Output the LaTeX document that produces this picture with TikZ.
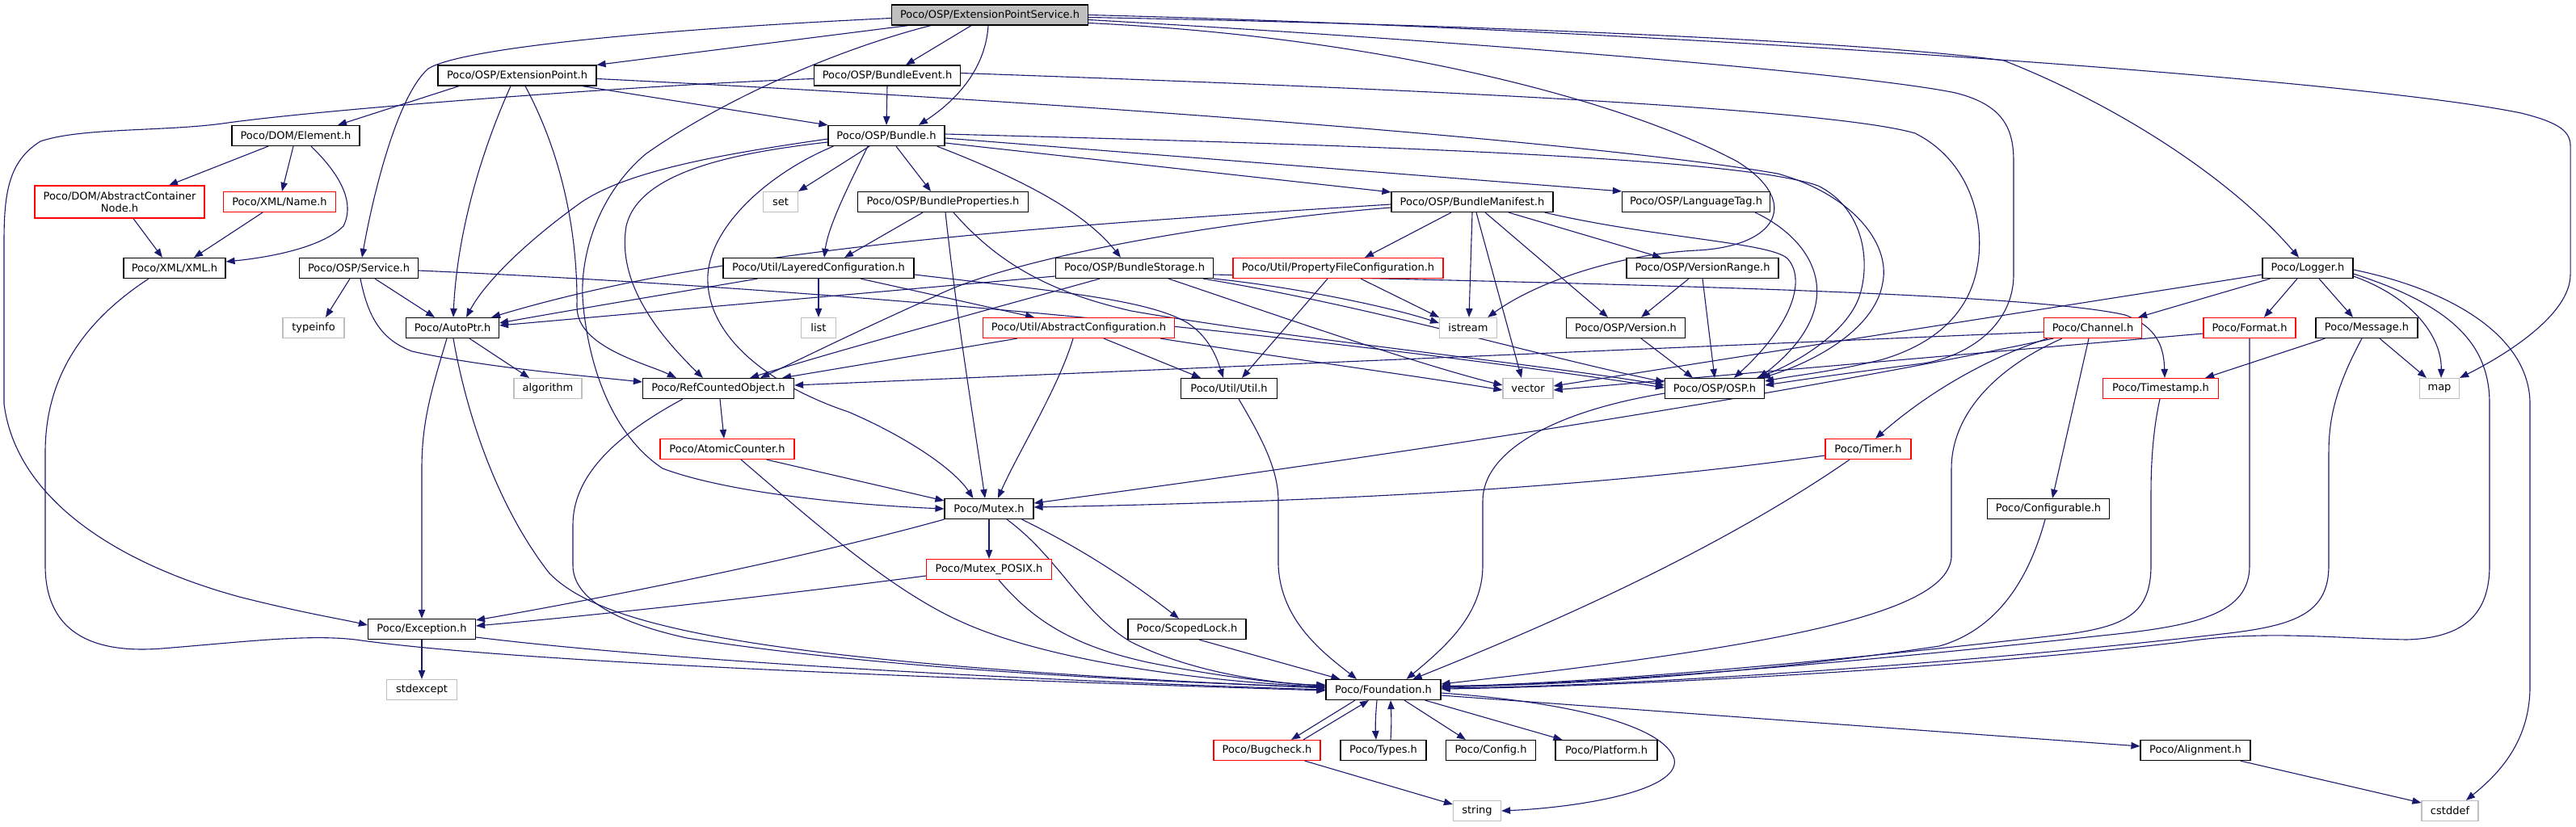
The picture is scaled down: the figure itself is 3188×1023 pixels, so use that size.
\documentclass[tikz,border=0pt]{standalone}
\usepackage{fontspec}
\setmainfont{DejaVu Sans}
\usetikzlibrary{arrows.meta,calc}
\definecolor{edgec}{RGB}{25,25,112}
\definecolor{lgray}{RGB}{191,191,191}
\definecolor{nred}{RGB}{255,0,0}
\pgfdeclarelayer{bg}
\pgfsetlayers{bg,main}
\begin{document}
\begin{tikzpicture}[x=0.5pt,y=-0.5pt,
 nd/.style={draw=black, line width=0.6pt, inner sep=0pt, minimum height=12.5pt, font=\fontsize{6.5}{7.5}\selectfont, fill=white},
 rd/.style={nd, draw=nred},
 gd/.style={nd, draw=lgray},
 ed/.style={draw=edgec, line width=0.55pt, -{Triangle[length=5.5pt,width=4.2pt]}}]
\useasboundingbox (0,0) rectangle (3188,1023);
% nodes
\node[nd,fill=lgray,minimum width=121.5pt] (eps) at (1225,18.5) {Poco/OSP/ExtensionPointService.h};
\node[nd,minimum width=98pt] (extpt) at (640,93.5) {Poco/OSP/ExtensionPoint.h};
\node[nd,minimum width=90.5pt] (bevent) at (1098,93.5) {Poco/OSP/BundleEvent.h};
\node[nd,minimum width=72pt] (bundle) at (1097,168) {Poco/OSP/Bundle.h};
\node[nd,minimum width=79pt] (element) at (366,168) {Poco/DOM/Element.h};
\node[rd,minimum width=105pt,minimum height=20pt,align=center] (acn) at (148,250) {Poco/DOM/AbstractContainer\\Node.h};
\node[rd,minimum width=69.5pt] (xmlname) at (346,250) {Poco/XML/Name.h};
\node[gd,minimum width=21.5pt] (set) at (966,250) {set};
\node[nd,minimum width=105.5pt] (bprops) at (1167,250) {Poco/OSP/BundleProperties.h};
\node[nd,minimum width=100pt] (bmanifest) at (1822,250) {Poco/OSP/BundleManifest.h};
\node[nd,minimum width=91.5pt] (langtag) at (2099,250) {Poco/OSP/LanguageTag.h};
\node[nd,minimum width=63pt] (xmlxml) at (216,332) {Poco/XML/XML.h};
\node[nd,minimum width=73.5pt] (service) at (444,332) {Poco/OSP/Service.h};
\node[nd,minimum width=118pt] (layered) at (1013,332) {Poco/Util/LayeredConfiguration.h};
\node[nd,minimum width=97.5pt] (bstorage) at (1404,332) {Poco/OSP/BundleStorage.h};
\node[rd,minimum width=130pt] (propfile) at (1656,332) {Poco/Util/PropertyFileConfiguration.h};
\node[nd,minimum width=94pt] (verrange) at (2107,332) {Poco/OSP/VersionRange.h};
\node[nd,minimum width=56pt] (logger) at (2856,332) {Poco/Logger.h};
\node[gd,minimum width=38pt] (typeinfo) at (388,406) {typeinfo};
\node[nd,minimum width=57.5pt] (autoptr) at (560,406) {Poco/AutoPtr.h};
\node[gd,minimum width=21.5pt] (list) at (1013,406) {list};
\node[rd,minimum width=118.5pt] (abscfg) at (1335,406) {Poco/Util/AbstractConfiguration.h};
\node[gd,minimum width=35.5pt] (istream) at (1817,406) {istream};
\node[nd,minimum width=73.5pt] (version) at (2012,406) {Poco/OSP/Version.h};
\node[rd,minimum width=60.5pt] (channel) at (2590,406) {Poco/Channel.h};
\node[rd,minimum width=57pt] (format) at (2784,406) {Poco/Format.h};
\node[nd,minimum width=63pt] (message) at (2929,406) {Poco/Message.h};
\node[gd,minimum width=42pt] (algorithm) at (678,481) {algorithm};
\node[nd,minimum width=93.5pt] (refcnt) at (889,481) {Poco/RefCountedObject.h};
\node[nd,minimum width=59.5pt] (utilh) at (1521,481) {Poco/Util/Util.h};
\node[gd,minimum width=31pt] (vector) at (1891,481) {vector};
\node[nd,minimum width=61.5pt] (osph) at (2122,481) {Poco/OSP/OSP.h};
\node[rd,minimum width=71.5pt] (timestamp) at (2674,481) {Poco/Timestamp.h};
\node[gd,minimum width=24.5pt] (map) at (3019,481) {map};
\node[rd,minimum width=83pt] (atomic) at (900,556) {Poco/AtomicCounter.h};
\node[rd,minimum width=53pt] (timer) at (2312,556) {Poco/Timer.h};
\node[nd,minimum width=55pt] (mutex) at (1224,630) {Poco/Mutex.h};
\node[nd,minimum width=75.5pt] (configurable) at (2535,630) {Poco/Configurable.h};
\node[rd,minimum width=77.5pt] (mutexposix) at (1224,705) {Poco/Mutex\_POSIX.h};
\node[nd,minimum width=66.5pt] (exception) at (522,779) {Poco/Exception.h};
\node[nd,minimum width=73pt] (scopedlock) at (1469,779) {Poco/ScopedLock.h};
\node[gd,minimum width=43.5pt] (stdexcept) at (522,854) {stdexcept};
\node[nd,minimum width=71pt] (foundation) at (1712,854) {Poco/Foundation.h};
\node[rd,minimum width=66pt] (bugcheck) at (1568,929) {Poco/Bugcheck.h};
\node[nd,minimum width=53pt] (types) at (1712,929) {Poco/Types.h};
\node[nd,minimum width=55.5pt] (config) at (1845,929) {Poco/Config.h};
\node[nd,minimum width=63pt] (platform) at (1988,929) {Poco/Platform.h};
\node[nd,minimum width=68pt] (alignment) at (2717,929) {Poco/Alignment.h};
\node[gd,minimum width=29.5pt] (string) at (1828,1004) {string};
\node[gd,minimum width=35pt] (cstddef) at (3032,1004) {cstddef};
% edges
\begin{pgfonlayer}{bg}
% ExtensionPointService
\draw[ed] ($(eps.south)+(-101,0)$) -- (extpt.north east);
\draw[ed] ($(eps.south)+(-23,0)$) -- ($(bevent.north)+(23,0)$);
\draw[ed] ($(eps.south)+(-2,0)$) .. controls (1220,80) and (1190,120) .. ($(bundle.north)+(40,0)$);
\draw[ed] ($(eps.west)+(0,4)$) .. controls (800,37) and (570,60) .. (530,85) .. controls (490,120) and (460,250) .. ($(service.north)+(4,0)$);
\draw[ed] ($(eps.south)+(-73,0)$) .. controls (1040,60) and (900,120) .. (800,190) .. controls (740,240) and (715,320) .. (722,380) .. controls (730,460) and (760,540) .. (820,580) .. controls (900,610) and (1050,625) .. (mutex.west);
\draw[ed] ($(eps.east)+(0,3)$) .. controls (1800,30) and (2300,50) .. (2480,75) .. controls (2620,130) and (2760,220) .. ($(logger.north)+(-11,0)$);
\draw[ed] ($(eps.east)+(0,0)$) .. controls (2000,35) and (2900,95) .. (3120,140) .. controls (3160,150) and (3181,160) .. (3181,180) -- (3181,340) .. controls (3181,390) and (3100,440) .. (map.north east);
\draw[ed] ($(eps.east)+(0,10)$) .. controls (1700,45) and (2000,120) .. (2150,200) .. controls (2230,250) and (2200,305) .. (2100,310) .. controls (2000,315) and (1900,350) .. ($(istream.north east)+(-12,0)$);
\draw[ed] ($(eps.east)+(0,6)$) .. controls (1800,50) and (2300,90) .. (2420,115) .. controls (2480,130) and (2492,160) .. (2492,200) -- (2492,340) .. controls (2492,400) and (2440,440) .. (2380,450) .. controls (2300,460) and (2230,470) .. ($(osph.east)+(0,-4)$);
% ExtensionPoint
\draw[ed] ($(extpt.south)+(-72,0)$) -- ($(element.north)+(52,0)$);
\draw[ed] ($(extpt.south east)+(-18,0)$) -- (bundle.north west);
\draw[ed] ($(extpt.south)+(-8,0)$) .. controls (590,200) and (565,300) .. ($(autoptr.north)+(1,0)$);
\draw[ed] ($(extpt.south)+(10,0)$) .. controls (700,200) and (715,300) .. (714,380) .. controls (714,430) and (800,450) .. ($(refcnt.north west)+(42,0)$);
\draw[ed] ($(extpt.east)+(0,4)$) .. controls (1400,130) and (2000,180) .. (2200,215) .. controls (2290,240) and (2340,300) .. (2330,350) .. controls (2320,410) and (2240,450) .. ($(osph.north east)+(-4,0)$);
% BundleEvent
\draw[ed] (bevent.south) -- (bundle.north);
\draw[ed] ($(bevent.east)+(0,-3)$) .. controls (1600,105) and (2250,130) .. (2370,165) .. controls (2440,200) and (2460,280) .. (2445,340) .. controls (2430,400) and (2380,430) .. (2330,445) .. controls (2270,460) and (2220,465) .. ($(osph.east)+(0,-9)$);
\draw[ed] ($(bevent.west)+(0,4)$) .. controls (800,105) and (400,135) .. (275,153) .. controls (200,163) and (100,158) .. (50,175) .. controls (10,200) and (5,240) .. (5,300) -- (5,500) .. controls (20,620) and (150,700) .. (300,740) .. controls (380,760) and (420,766) .. ($(exception.west)+(0,-5)$);
% Bundle
\draw[ed] ($(bundle.south)+(-21,0)$) -- (set.north east);
\draw[ed] ($(bundle.south)+(12,0)$) -- ($(bprops.north)+(-15,0)$);
\draw[ed] ($(bundle.south)+(-23,0)$) .. controls (1050,230) and (1025,280) .. ($(layered.north)+(7,0)$);
\draw[ed] ($(bundle.south east)+(-10,0)$) .. controls (1260,220) and (1340,260) .. ($(bstorage.north)+(-17,0)$);
\draw[ed] ($(bundle.east)+(0,9)$) -- ($(bmanifest.north west)+(0,1)$);
\draw[ed] ($(bundle.east)+(0,3)$) -- (langtag.north west);
\draw[ed] ($(bundle.east)+(0,-2)$) .. controls (1700,180) and (2150,195) .. (2250,230) .. controls (2310,260) and (2315,330) .. (2300,370) .. controls (2280,420) and (2210,455) .. ($(osph.north east)+(-10,0)$);
\draw[ed] ($(bundle.west)+(0,4)$) .. controls (900,190) and (780,210) .. (720,250) .. controls (650,300) and (600,350) .. ($(autoptr.north)+(17,0)$);
\draw[ed] ($(bundle.west)+(0,8)$) .. controls (900,190) and (790,215) .. (775,280) .. controls (765,340) and (800,400) .. ($(refcnt.north west)+(75,0)$);
\draw[ed] ($(bundle.south west)+(7,0)$) .. controls (950,215) and (880,280) .. (876,340) .. controls (872,420) and (960,480) .. (1050,510) .. controls (1120,540) and (1180,580) .. ($(mutex.north west)+(36,0)$);
% BundleProperties
\draw[ed] ($(bprops.south)+(-25,0)$) -- ($(layered.north)+(32,0)$);
\draw[ed] ($(bprops.south)+(3,0)$) .. controls (1185,400) and (1205,520) .. ($(mutex.north)+(-5,0)$);
\draw[ed] ($(bprops.south)+(13,0)$) .. controls (1230,320) and (1290,360) .. (1400,385) .. controls (1600,420) and (1900,450) .. ($(osph.west)+(0,-4)$);
% LayeredConfiguration
\draw[ed] (layered.south) -- (list.north);
\draw[ed] ($(layered.south)+(52,0)$) -- ($(abscfg.north)+(-55,0)$);
\draw[ed] ($(layered.south west)+(43,0)$) .. controls (850,360) and (700,385) .. ($(autoptr.east)+(0,-6)$);
\draw[ed] ($(layered.east)+(0,8)$) .. controls (1300,360) and (1420,370) .. (1470,400) .. controls (1500,420) and (1508,450) .. ($(utilh.north)+(-7,0)$);
% BundleStorage
\draw[ed] ($(bstorage.west)+(0,10)$) -- ($(autoptr.east)+(0,-3)$);
\draw[ed] ($(bstorage.south)+(-43,0)$) .. controls (1200,390) and (1050,430) .. ($(refcnt.north east)+(-55,0)$);
\draw[ed] ($(bstorage.south east)+(0,0)$) .. controls (1600,355) and (1720,380) .. ($(istream.west)+(0,-6)$);
\draw[ed] ($(bstorage.south east)+(-56,0)$) .. controls (1550,380) and (1750,450) .. ($(vector.west)+(0,-4)$);
\draw[ed] ($(bstorage.south east)+(-13,0)$) .. controls (1700,380) and (1900,440) .. ($(osph.west)+(0,-8)$);
\draw[ed] ($(bstorage.east)+(0,8)$) .. controls (1900,350) and (2500,360) .. (2630,390) .. controls (2670,405) and (2678,430) .. ($(timestamp.north)+(5,0)$);
% BundleManifest
\draw[ed] ($(bmanifest.south)+(-26,0)$) -- ($(propfile.north)+(33,0)$);
\draw[ed] (bmanifest.south) -- ($(istream.north)+(1,0)$);
\draw[ed] ($(bmanifest.south)+(5,0)$) -- ($(vector.north)+(-8,0)$);
\draw[ed] ($(bmanifest.south)+(16,0)$) -- ($(version.north)+(-22,0)$);
\draw[ed] ($(bmanifest.south)+(45,0)$) -- ($(verrange.north)+(-51,0)$);
\draw[ed] ($(bmanifest.south east)+(-11,0)$) .. controls (2050,295) and (2190,300) .. (2212,320) .. controls (2235,345) and (2220,400) .. ($(osph.north)+(24,0)$);
\draw[ed] ($(bmanifest.west)+(0,3)$) .. controls (1300,280) and (900,305) .. ($(autoptr.north east)+(-10,0)$);
\draw[ed] ($(bmanifest.west)+(0,7)$) .. controls (1500,275) and (1250,320) .. (1157,367) .. controls (1060,410) and (980,450) .. ($(refcnt.north east)+(-42,0)$);
% LanguageTag, VersionRange, Version, PropertyFile
\draw[ed] ($(langtag.south east)+(-19,0)$) .. controls (2250,300) and (2290,380) .. ($(osph.north east)+(-7,0)$);
\draw[ed] ($(propfile.south)+(28,0)$) -- (istream.north west);
\draw[ed] ($(propfile.south)+(-13,0)$) -- ($(utilh.north)+(16,0)$);
\draw[ed] ($(verrange.south)+(-17,0)$) -- ($(version.north)+(19,0)$);
\draw[ed] (verrange.south) -- (osph.north);
\draw[ed] ($(version.south)+(19,0)$) -- ($(osph.north)+(-27,0)$);
% Service
\draw[ed] ($(service.south)+(-11,0)$) -- ($(typeinfo.north)+(15,0)$);
\draw[ed] ($(service.south)+(20,0)$) -- ($(autoptr.north)+(-22,0)$);
\draw[ed] ($(service.south)+(2,0)$) .. controls (455,390) and (470,420) .. (510,435) .. controls (600,455) and (720,465) .. ($(refcnt.west)+(0,-8)$);
\draw[ed] ($(service.east)+(0,3)$) .. controls (1200,365) and (1800,440) .. ($(osph.west)+(0,-1)$);
% DOM / XML
\draw[ed] ($(element.south)+(-34,0)$) -- ($(acn.north)+(61,0)$);
\draw[ed] ($(element.south)+(-3,0)$) -- ($(xmlname.north)+(3,0)$);
\draw[ed] ($(element.south)+(19,0)$) .. controls (420,215) and (440,250) .. (425,280) .. controls (400,305) and (340,318) .. ($(xmlxml.east)+(0,-8)$);
\draw[ed] ($(acn.south)+(17,0)$) -- ($(xmlxml.north)+(-15,0)$);
\draw[ed] ($(xmlname.south)+(-21,0)$) -- ($(xmlxml.north)+(24,0)$);
\draw[ed] ($(xmlxml.south)+(-32,0)$) .. controls (100,400) and (56,470) .. (56,560) -- (56,700) .. controls (56,780) and (110,810) .. (200,803) .. controls (300,795) and (380,785) .. (440,792) .. controls (600,815) and (1000,835) .. ($(foundation.west)+(0,1)$);
% AutoPtr
\draw[ed] ($(autoptr.south)+(21,0)$) -- ($(algorithm.north)+(-23,0)$);
\draw[ed] ($(autoptr.south)+(-7,0)$) .. controls (535,480) and (522,520) .. (522,580) -- (exception.north);
\draw[ed] ($(autoptr.south)+(1,0)$) .. controls (575,500) and (610,620) .. (680,710) .. controls (740,770) and (900,820) .. ($(foundation.west)+(0,-2)$);
% Exception
\draw[ed] (exception.south) -- (stdexcept.north);
\draw[ed] ($(exception.east)+(0,10)$) .. controls (800,815) and (1200,840) .. ($(foundation.west)+(0,0)$);
% RefCountedObject, AtomicCounter
\draw[ed] ($(refcnt.south)+(2,0)$) -- ($(atomic.north)+(-4,0)$);
\draw[ed] ($(refcnt.south west)+(50,0)$) .. controls (760,540) and (709,590) .. (709,650) -- (709,700) .. controls (709,740) and (760,770) .. (850,790) .. controls (1100,830) and (1450,845) .. ($(foundation.west)+(0,-3)$);
\draw[ed] ($(atomic.south east)+(-35,0)$) -- ($(mutex.west)+(0,-10)$);
\draw[ed] ($(atomic.south)+(17,0)$) .. controls (1000,640) and (1100,730) .. (1190,770) .. controls (1300,820) and (1500,845) .. ($(foundation.west)+(0,-4)$);
% AbstractConfiguration
\draw[ed] ($(abscfg.south west)+(43,0)$) -- ($(refcnt.north east)+(-15,0)$);
\draw[ed] ($(abscfg.south)+(31,0)$) -- ($(utilh.north)+(-35,0)$);
\draw[ed] ($(abscfg.south)+(-7,0)$) .. controls (1310,480) and (1260,560) .. ($(mutex.north)+(11,0)$);
\draw[ed] ($(abscfg.south east)+(-18,0)$) .. controls (1600,445) and (1750,465) .. ($(vector.west)+(0,2)$);
% Util.h
\draw[ed] ($(utilh.south)+(12,0)$) .. controls (1560,540) and (1582,580) .. (1582,620) -- (1582,700) .. controls (1585,770) and (1640,810) .. ($(foundation.north)+(-33,0)$);
% Mutex family
\draw[ed] (mutex.south) -- (mutexposix.north);
\draw[ed] ($(mutex.south east)+(-15,0)$) .. controls (1340,680) and (1400,720) .. ($(scopedlock.north)+(-10,0)$);
\draw[ed] (mutex.south west) .. controls (1000,690) and (750,740) .. ($(exception.north east)+(0,2)$);
\draw[ed] ($(mutex.south)+(22,0)$) .. controls (1310,690) and (1340,760) .. (1400,795) .. controls (1470,830) and (1560,845) .. ($(foundation.west)+(0,-5)$);
\draw[ed] ($(mutexposix.west)+(0,8)$) .. controls (900,745) and (700,765) .. ($(exception.east)+(0,-4)$);
\draw[ed] ($(mutexposix.south)+(12,0)$) .. controls (1280,770) and (1330,800) .. (1420,820) .. controls (1520,840) and (1600,848) .. ($(foundation.west)+(0,-6)$);
\draw[ed] ($(scopedlock.south)+(15,0)$) -- ($(foundation.north west)+(18,0)$);
% Timer
\draw[ed] ($(timer.west)+(0,8)$) .. controls (2000,600) and (1700,620) .. ($(mutex.east)+(0,-2)$);
\draw[ed] ($(timer.south)+(-23,0)$) .. controls (2100,700) and (1850,800) .. ($(foundation.north east)+(-35,0)$);
% OSP.h
\draw[ed] ($(osph.west)+(0,6)$) .. controls (1920,510) and (1835,560) .. (1835,620) -- (1835,700) .. controls (1835,760) and (1790,800) .. ($(foundation.north east)+(-43,0)$);
% Channel
\draw[ed] ($(channel.south)+(-5,0)$) -- ($(configurable.north)+(5,0)$);
\draw[ed] ($(channel.south west)+(5,0)$) .. controls (2440,450) and (2370,500) .. ($(timer.north)+(9,0)$);
\draw[ed] ($(channel.south west)+(12,0)$) .. controls (2300,470) and (1900,540) .. ($(mutex.east)+(0,-7)$);
\draw[ed] ($(channel.west)+(0,5)$) -- ($(refcnt.east)+(0,-4)$);
\draw[ed] ($(channel.south west)+(23,0)$) .. controls (2460,460) and (2415,520) .. (2415,580) -- (2415,690) .. controls (2410,760) and (2200,800) .. ($(foundation.east)+(0,-7)$);
% Logger
\draw[ed] ($(logger.south west)+(10,0)$) -- ($(channel.north east)+(-5,0)$);
\draw[ed] ($(logger.south)+(-13,0)$) -- ($(format.north)+(18,0)$);
\draw[ed] ($(logger.south)+(14,0)$) -- ($(message.north)+(-17,0)$);
\draw[ed] ($(logger.east)+(0,10)$) .. controls (2990,370) and (3022,420) .. ($(map.north)+(2,0)$);
\draw[ed] ($(logger.east)+(0,7)$) .. controls (3040,380) and (3081,430) .. (3081,500) -- (3081,700) .. controls (3081,760) and (3050,790) .. (2978,792) .. controls (2880,790) and (2800,780) .. (2700,795) .. controls (2400,830) and (2000,850) .. ($(foundation.east)+(0,-1)$);
\draw[ed] ($(logger.east)+(0,2)$) .. controls (3040,360) and (3131,420) .. (3131,500) -- (3131,850) .. controls (3131,920) and (3090,960) .. ($(cstddef.north)+(20,0)$);
\draw[ed] ($(logger.west)+(0,8)$) -- ($(vector.east)+(0,-3)$);
% Format, Message, Timestamp, Configurable
\draw[ed] ($(format.west)+(0,7)$) -- ($(vector.east)+(0,2)$);
\draw[ed] (format.south) -- (2784,700) .. controls (2784,760) and (2720,775) .. (2601,787) .. controls (2300,820) and (2000,845) .. ($(foundation.east)+(0,-3)$);
\draw[ed] ($(message.south west)+(12,0)$) -- ($(timestamp.north east)+(-17,0)$);
\draw[ed] ($(message.south)+(16,0)$) -- ($(map.north west)+(9,0)$);
\draw[ed] ($(message.south)+(-6,0)$) .. controls (2890,480) and (2882,520) .. (2882,560) -- (2882,700) .. controls (2882,760) and (2840,775) .. (2750,785) .. controls (2400,825) and (2000,850) .. ($(foundation.east)+(0,-2)$);
\draw[ed] ($(timestamp.south)+(-1,0)$) .. controls (2665,530) and (2662,570) .. (2662,610) -- (2662,700) .. controls (2662,760) and (2630,775) .. (2560,785) .. controls (2300,815) and (2000,845) .. ($(foundation.east)+(0,-4)$);
\draw[ed] ($(configurable.south)+(-4,0)$) .. controls (2510,720) and (2470,780) .. (2400,800) .. controls (2200,830) and (1950,850) .. ($(foundation.east)+(0,-5)$);
% Foundation
\draw[ed] ($(foundation.south)+(-35,0)$) -- ($(bugcheck.north)+(30,0)$);
\draw[ed] ($(bugcheck.north)+(45,0)$) -- ($(foundation.south)+(-18,0)$);
\draw[ed] ($(foundation.south)+(-8,0)$) .. controls (1702,890) and (1702,900) .. ($(types.north)+(-9,0)$);
\draw[ed] ($(types.north)+(9,0)$) .. controls (1722,900) and (1722,890) .. ($(foundation.south)+(9,0)$);
\draw[ed] ($(foundation.south)+(26,0)$) -- ($(config.north)+(-31,0)$);
\draw[ed] ($(foundation.south east)+(-20,0)$) -- ($(platform.north west)+(9,0)$);
\draw[ed] ($(foundation.east)+(0,7)$) -- ($(alignment.west)+(0,-5)$);
\draw[ed] ($(foundation.east)+(0,4)$) .. controls (1950,870) and (2060,900) .. (2072,940) .. controls (2080,980) and (1950,1000) .. (string.east);
\draw[ed] ($(bugcheck.south east)+(-20,0)$) -- ($(string.west)+(0,-8)$);
\draw[ed] ($(alignment.south east)+(-13,0)$) -- ($(cstddef.west)+(0,-10)$);
\end{pgfonlayer}
\end{tikzpicture}
\end{document}
